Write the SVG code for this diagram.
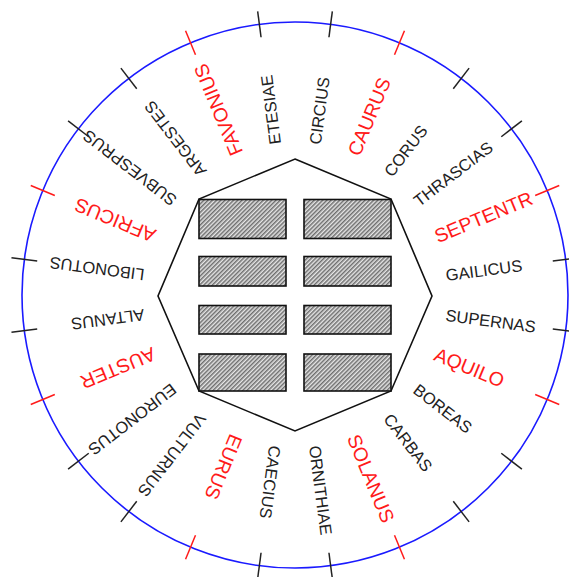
<svg xmlns="http://www.w3.org/2000/svg" width="569" height="577" viewBox="0 0 569 577">
<defs>
<pattern id="hatch" patternUnits="userSpaceOnUse" width="3" height="3" patternTransform="rotate(45)">
<rect width="3" height="3" fill="#e6e6e6"/>
<rect width="1.5" height="3" fill="#6e6e6e"/>
</pattern>
<line id="tick" x1="295" y1="35" x2="295" y2="9"/>
</defs>
<style>
.lbl{font-family:"Liberation Sans",Arial,sans-serif;font-size:16.5px;fill:#222;dominant-baseline:central}
.red{font-size:19.5px;fill:#ff1a1a}
.tk{stroke:#222;stroke-width:1.5}
.tkr{stroke:#ff1a1a;stroke-width:1.5}
.bar{fill:url(#hatch);stroke:#111;stroke-width:1.6}
</style>
<rect width="569" height="577" fill="#fff"/>
<g id="ring">
<circle cx="295" cy="295" r="273" fill="none" stroke="#1a1aff" stroke-width="1.6"/>
</g>
<g id="ticks">
<use href="#tick" class="tk" transform="rotate(7.5 295 295)"/>
<use href="#tick" class="tkr" transform="rotate(22.5 295 295)"/>
<use href="#tick" class="tk" transform="rotate(37.5 295 295)"/>
<use href="#tick" class="tk" transform="rotate(52.5 295 295)"/>
<use href="#tick" class="tkr" transform="rotate(67.5 295 295)"/>
<use href="#tick" class="tk" transform="rotate(82.5 295 295)"/>
<use href="#tick" class="tk" transform="rotate(97.5 295 295)"/>
<use href="#tick" class="tkr" transform="rotate(112.5 295 295)"/>
<use href="#tick" class="tk" transform="rotate(127.5 295 295)"/>
<use href="#tick" class="tk" transform="rotate(142.5 295 295)"/>
<use href="#tick" class="tkr" transform="rotate(157.5 295 295)"/>
<use href="#tick" class="tk" transform="rotate(172.5 295 295)"/>
<use href="#tick" class="tk" transform="rotate(187.5 295 295)"/>
<use href="#tick" class="tkr" transform="rotate(202.5 295 295)"/>
<use href="#tick" class="tk" transform="rotate(217.5 295 295)"/>
<use href="#tick" class="tk" transform="rotate(232.5 295 295)"/>
<use href="#tick" class="tkr" transform="rotate(247.5 295 295)"/>
<use href="#tick" class="tk" transform="rotate(262.5 295 295)"/>
<use href="#tick" class="tk" transform="rotate(277.5 295 295)"/>
<use href="#tick" class="tkr" transform="rotate(292.5 295 295)"/>
<use href="#tick" class="tk" transform="rotate(307.5 295 295)"/>
<use href="#tick" class="tk" transform="rotate(322.5 295 295)"/>
<use href="#tick" class="tkr" transform="rotate(337.5 295 295)"/>
<use href="#tick" class="tk" transform="rotate(352.5 295 295)"/>
</g>
<g id="octagon">
<polygon points="295,159 391,199 432,296 391,391 295,431 199,391 158,296 199,199" fill="none" stroke="#111" stroke-width="1.6"/>
</g>
<g id="bars">
<rect class="bar" x="199" y="199.5" width="87" height="39"/>
<rect class="bar" x="304" y="199.5" width="87" height="39"/>
<rect class="bar" x="199" y="256.5" width="87" height="29.5"/>
<rect class="bar" x="304" y="256.5" width="87" height="29.5"/>
<rect class="bar" x="199" y="305.5" width="87" height="28.5"/>
<rect class="bar" x="304" y="305.5" width="87" height="28.5"/>
<rect class="bar" x="199" y="354" width="87" height="37"/>
<rect class="bar" x="304" y="354" width="87" height="37"/>
</g>
<g id="labels">
<text class="lbl" x="447" y="295" transform="rotate(-82.5 295 295)">CIRCIUS</text>
<text class="lbl red" x="447" y="295" transform="rotate(-67.5 295 295)">CAURUS</text>
<text class="lbl" x="447" y="295" transform="rotate(-52.5 295 295)">CORUS</text>
<text class="lbl" x="447" y="295" transform="rotate(-37.5 295 295)">THRASCIAS</text>
<text class="lbl red" x="447" y="295" transform="rotate(-22.5 295 295)">SEPTENTR</text>
<text class="lbl" x="447" y="295" transform="rotate(-7.5 295 295)">GAILICUS</text>
<text class="lbl" x="447" y="295" transform="rotate(7.5 295 295)">SUPERNAS</text>
<text class="lbl red" x="447" y="295" transform="rotate(22.5 295 295)">AQUILO</text>
<text class="lbl" x="447" y="295" transform="rotate(37.5 295 295)">BOREAS</text>
<text class="lbl" x="447" y="295" transform="rotate(52.5 295 295)">CARBAS</text>
<text class="lbl red" x="447" y="295" transform="rotate(67.5 295 295)">SOLANUS</text>
<text class="lbl" x="447" y="295" transform="rotate(82.5 295 295)">ORNITHIAE</text>
<text class="lbl" x="447" y="295" transform="rotate(97.5 295 295)">CAECIUS</text>
<text class="lbl red" x="447" y="295" transform="rotate(112.5 295 295)">EURUS</text>
<text class="lbl" x="447" y="295" transform="rotate(127.5 295 295)">VULTURNUS</text>
<text class="lbl" x="447" y="295" transform="rotate(142.5 295 295)">EURONOTUS</text>
<text class="lbl red" x="447" y="295" transform="rotate(157.5 295 295)">AUSTER</text>
<text class="lbl" x="447" y="295" transform="rotate(172.5 295 295)">ALTANUS</text>
<text class="lbl" x="447" y="295" transform="rotate(187.5 295 295)">LIBONOTUS</text>
<text class="lbl red" x="447" y="295" transform="rotate(202.5 295 295)">AFRICUS</text>
<text class="lbl" x="447" y="295" transform="rotate(217.5 295 295)">SUBVESPRUS</text>
<text class="lbl" x="447" y="295" transform="rotate(232.5 295 295)">ARGESTES</text>
<text class="lbl red" x="447" y="295" transform="rotate(247.5 295 295)">FAVONIUS</text>
<text class="lbl" x="447" y="295" transform="rotate(262.5 295 295)">ETESIAE</text>
</g>
</svg>
